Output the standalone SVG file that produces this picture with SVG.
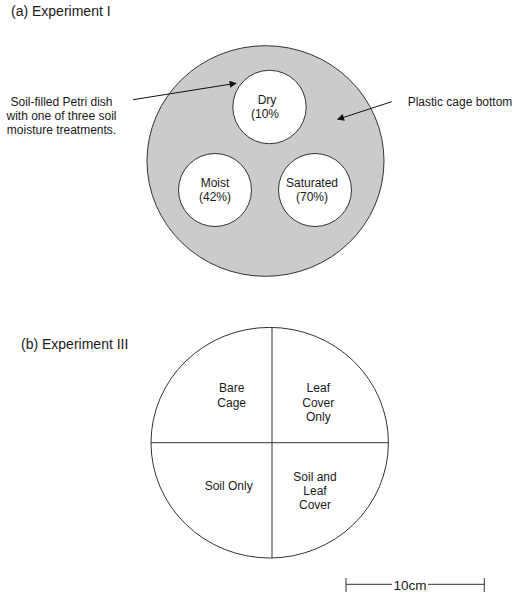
<svg xmlns="http://www.w3.org/2000/svg" width="529" height="595" viewBox="0 0 529 595">
<style>
text{font-family:"Liberation Sans",Arial,sans-serif;fill:#1a1a1a;}
.t{font-size:14px;}
.l{font-size:12px;text-anchor:middle;}
.s{stroke:#333;stroke-width:1;}
.dish{fill:#fff;stroke:#333;stroke-width:1;}
.ar{stroke:#111;stroke-width:1;fill:none;marker-end:url(#ah);}
</style>
<defs>
<marker id="ah" viewBox="0 0 10 10" refX="9" refY="5" markerWidth="9" markerHeight="7" markerUnits="userSpaceOnUse" orient="auto">
<path d="M0,0 L10,5 L0,10 z" fill="#111"/>
</marker>
</defs>
<text class="t" x="11" y="16">(a) Experiment I</text>
<g id="cage-a">
<ellipse cx="265.5" cy="161" rx="118.5" ry="115.3" fill="#cbcbcb" class="s"/>
</g>
<g id="dry">
<circle class="dish" cx="269.5" cy="107" r="36.7"/>
<text class="l" x="267" y="104">Dry</text>
<text class="l" x="265" y="118">(10%</text>
</g>
<g id="moist">
<circle class="dish" cx="215" cy="190" r="36.5"/>
<text class="l" x="215" y="187">Moist</text>
<text class="l" x="215" y="201">(42%)</text>
</g>
<g id="saturated">
<circle class="dish" cx="315" cy="190" r="36.5"/>
<text class="l" x="312" y="187">Saturated</text>
<text class="l" x="312" y="201">(70%)</text>
</g>
<g id="label-dish">
<text class="l" x="61.5" y="106">Soil-filled Petri dish</text>
<text class="l" x="61.5" y="120">with one of three soil</text>
<text class="l" x="61.5" y="134">moisture treatments.</text>
</g>
<g id="label-cage">
<text class="l" x="460" y="106">Plastic cage bottom</text>
</g>
<g id="connectors">
<line class="ar" x1="133" y1="99.7" x2="236" y2="83.3"/>
<line class="ar" x1="391.7" y1="101.7" x2="337.7" y2="119.3"/>
</g>
<text class="t" x="21" y="349">(b) Experiment III</text>
<g id="cage-b">
<ellipse cx="269.7" cy="442.7" rx="118.7" ry="115.3" fill="#fff" class="s"/>
<line class="s" x1="272" y1="327.4" x2="272" y2="558"/>
<line class="s" x1="151" y1="442.7" x2="388.4" y2="442.7"/>
</g>
<g id="bare-cage">
<text class="l" x="231.7" y="392">Bare</text>
<text class="l" x="231.7" y="406.5">Cage</text>
</g>
<g id="leaf-cover-only">
<text class="l" x="318.3" y="392">Leaf</text>
<text class="l" x="318.3" y="406.5">Cover</text>
<text class="l" x="318.3" y="420.5">Only</text>
</g>
<g id="soil-only">
<text class="l" x="228.7" y="490">Soil Only</text>
</g>
<g id="soil-and-leaf-cover">
<text class="l" x="315" y="480.5">Soil and</text>
<text class="l" x="315" y="495">Leaf</text>
<text class="l" x="315" y="509">Cover</text>
</g>
<g id="scale-bar">
<line class="s" x1="346" y1="584.3" x2="392" y2="584.3"/>
<line class="s" x1="428" y1="584.3" x2="484.3" y2="584.3"/>
<line class="s" x1="346" y1="578" x2="346" y2="592"/>
<line class="s" x1="484.3" y1="578" x2="484.3" y2="592"/>
<text x="410" y="589.5" style="font-size:13.5px;text-anchor:middle">10cm</text>
</g>
</svg>
